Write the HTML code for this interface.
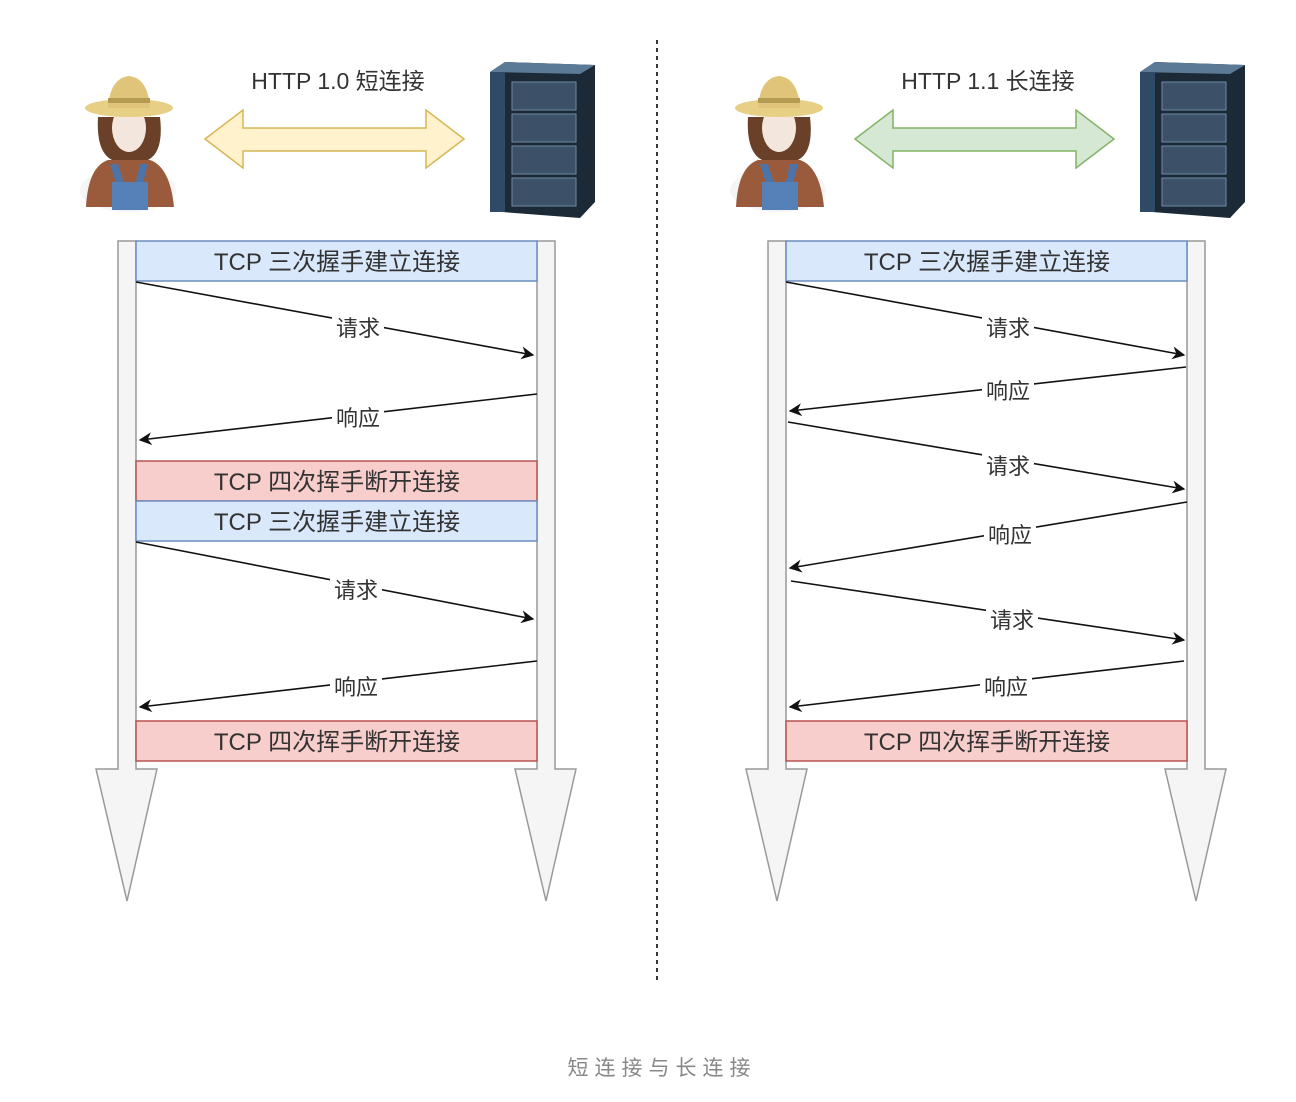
<!DOCTYPE html>
<html><head><meta charset="utf-8"><style>
html,body{margin:0;padding:0;background:#fff;width:1296px;height:1102px;overflow:hidden}
svg text{font-family:"Liberation Sans","Noto Sans CJK SC",sans-serif;fill:#333}
</style></head><body>
<svg width="1296" height="1102" viewBox="0 0 1296 1102" xmlns="http://www.w3.org/2000/svg">
<defs>
<marker id="ah" viewBox="0 0 10 10" refX="9" refY="5" markerWidth="13" markerHeight="13" markerUnits="userSpaceOnUse" orient="auto"><path d="M0,0 L10,5 L0,10 L3,5 z" fill="#111"/></marker>
<g id="person">
<ellipse cx="50" cy="118" rx="48" ry="22" fill="#eee" opacity="0.6"/>
<path d="M8,135 Q10,95 30,88 L72,88 Q92,95 96,135 Z" fill="#9a5a3c"/>
<path d="M32,92 L44,130 L60,130 L70,92 L62,92 L56,118 L48,118 L40,92Z" fill="#4d74a8"/>
<rect x="34" y="110" width="36" height="28" fill="#5680b8"/>
<path d="M20,45 Q18,80 34,88 L70,88 Q86,80 82,45Z" fill="#6a4128"/>
<ellipse cx="51" cy="56" rx="17" ry="24" fill="#f3e6dc"/>
<ellipse cx="51" cy="36" rx="44" ry="9" fill="#e8cf86"/>
<path d="M30,36 Q32,6 51,4 Q70,6 72,36Z" fill="#e0c47a"/>
<rect x="30" y="26" width="42" height="5" fill="#b59a52"/>
</g>
<g id="server">
<path d="M0,10 L15,0 L105,3 L105,140 L90,156 L12,150 Z" fill="#1c2a38"/>
<path d="M15,0 L105,3 L90,12 L0,10Z" fill="#5a7a96"/>
<rect x="0" y="10" width="15" height="140" fill="#2e4a66"/>
<g fill="#3c5068" stroke="#6f8aa4" stroke-width="1">
<rect x="22" y="20" width="64" height="28"/><rect x="22" y="52" width="64" height="28"/>
<rect x="22" y="84" width="64" height="28"/><rect x="22" y="116" width="64" height="28"/>
</g>
</g>
<g id="life">
<path d="M0,0 L18,0 L18,528 L39,528 L9,660 L-22,528 L0,528 Z" fill="#f5f5f5" stroke="#999" stroke-width="1.5"/>
</g>
</defs>

<line x1="657" y1="40" x2="657" y2="982" stroke="#333" stroke-width="2" stroke-dasharray="4,4"/>

<!-- LEFT -->
<use href="#person" x="78" y="72"/>
<use href="#server" x="490" y="62"/>
<text x="338" y="89" font-size="23" text-anchor="middle">HTTP 1.0 短连接</text>
<path d="M205,139 L243,110 L243,128 L426,128 L426,110 L464,139 L426,168 L426,151 L243,151 L243,168 Z" fill="#fff2cc" stroke="#d6b656" stroke-width="1.5"/>
<use href="#life" x="118" y="241"/>
<use href="#life" x="537" y="241"/>
<g stroke-width="1.5">
<rect x="136" y="241" width="401" height="40" fill="#dae8fc" stroke="#6c8ebf"/>
<rect x="136" y="461" width="401" height="40" fill="#f8cecc" stroke="#b85450"/>
<rect x="136" y="501" width="401" height="40" fill="#dae8fc" stroke="#6c8ebf"/>
<rect x="136" y="721" width="401" height="40" fill="#f8cecc" stroke="#b85450"/>
</g>
<g font-size="24" text-anchor="middle">
<text x="337" y="270">TCP 三次握手建立连接</text>
<text x="337" y="490">TCP 四次挥手断开连接</text>
<text x="337" y="530">TCP 三次握手建立连接</text>
<text x="337" y="750">TCP 四次挥手断开连接</text>
</g>
<g stroke="#111" stroke-width="1.6" marker-end="url(#ah)">
<line x1="136" y1="282" x2="533" y2="355"/>
<line x1="537" y1="394" x2="140" y2="440"/>
<line x1="136" y1="542" x2="533" y2="619"/>
<line x1="537" y1="661" x2="140" y2="707"/>
</g>
<g font-size="22" text-anchor="middle">
<rect x="332" y="315" width="52" height="26" fill="#fff"/><text x="358" y="336">请求</text>
<rect x="332" y="405" width="52" height="26" fill="#fff"/><text x="358" y="426">响应</text>
<rect x="330" y="577" width="52" height="26" fill="#fff"/><text x="356" y="598">请求</text>
<rect x="330" y="674" width="52" height="26" fill="#fff"/><text x="356" y="695">响应</text>
</g>

<!-- RIGHT -->
<use href="#person" x="728" y="72"/>
<use href="#server" x="1140" y="62"/>
<text x="988" y="89" font-size="23" text-anchor="middle">HTTP 1.1 长连接</text>
<path d="M855,139 L893,110 L893,128 L1076,128 L1076,110 L1114,139 L1076,168 L1076,151 L893,151 L893,168 Z" fill="#d5e8d4" stroke="#82b366" stroke-width="1.5"/>
<use href="#life" x="768" y="241"/>
<use href="#life" x="1187" y="241"/>
<g stroke-width="1.5">
<rect x="786" y="241" width="401" height="40" fill="#dae8fc" stroke="#6c8ebf"/>
<rect x="786" y="721" width="401" height="40" fill="#f8cecc" stroke="#b85450"/>
</g>
<g font-size="24" text-anchor="middle">
<text x="987" y="270">TCP 三次握手建立连接</text>
<text x="987" y="750">TCP 四次挥手断开连接</text>
</g>
<g stroke="#111" stroke-width="1.6" marker-end="url(#ah)">
<line x1="786" y1="282" x2="1184" y2="355"/>
<line x1="1186" y1="367" x2="790" y2="411"/>
<line x1="788" y1="422" x2="1184" y2="489"/>
<line x1="1187" y1="502" x2="790" y2="568"/>
<line x1="791" y1="581" x2="1184" y2="640"/>
<line x1="1184" y1="661" x2="790" y2="707"/>
</g>
<g font-size="22" text-anchor="middle">
<rect x="982" y="315" width="52" height="26" fill="#fff"/><text x="1008" y="336">请求</text>
<rect x="982" y="378" width="52" height="26" fill="#fff"/><text x="1008" y="399">响应</text>
<rect x="982" y="453" width="52" height="26" fill="#fff"/><text x="1008" y="474">请求</text>
<rect x="984" y="522" width="52" height="26" fill="#fff"/><text x="1010" y="543">响应</text>
<rect x="986" y="607" width="52" height="26" fill="#fff"/><text x="1012" y="628">请求</text>
<rect x="980" y="674" width="52" height="26" fill="#fff"/><text x="1006" y="695">响应</text>
</g>

<text x="662" y="1075" font-size="21" text-anchor="middle" letter-spacing="6" style="fill:#888">短连接与长连接</text>
</svg>
</body></html>
